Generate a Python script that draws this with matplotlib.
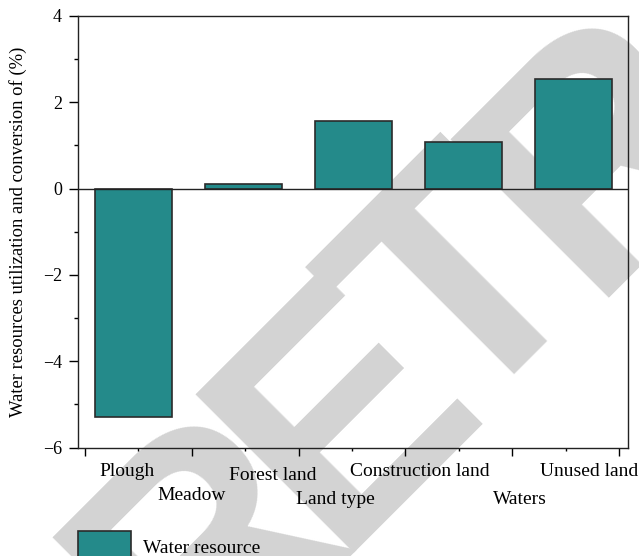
import numpy as np
import matplotlib
matplotlib.use("Agg")
import matplotlib.pyplot as plt
from matplotlib import font_manager
from matplotlib.patches import Patch
from matplotlib.ticker import MultipleLocator

plt.rcParams["font.family"] = ["Liberation Serif", "DejaVu Serif"]

# ── data ────────────────────────────────────────────────────────────────────
land_types = ["Plough", "Meadow", "Forest land", "Construction land", "Unused land"]
change_pct = [-5.30, 0.10, 1.56, 1.08, 2.54]

# category labels as printed under the axis (staggered in two rows)
axis_labels = ["Plough", "Meadow", "Forest land", "Construction land", "Waters", "Unused land"]
series_name = "Water resource"

TEAL = "#248a8a"
W, H = 639, 556

fig = plt.figure(figsize=(W / 100, H / 100), dpi=100, facecolor="white")
ax = fig.add_axes([78 / W, 1 - 447.5 / H, 550 / W, 431.5 / H])
ax.patch.set_alpha(0)

# ── watermark behind everything, one letter at a time along a 45° baseline ─
installed = {f.name for f in font_manager.fontManager.ttflist}
wm_family = "Liberation Sans Narrow" if "Liberation Sans Narrow" in installed else "Liberation Sans"
wm_word = "RETRACTED"
wm_offsets = [-10, 192, 373, 553, 750, 930, 1110, 1270, 1445]  # px along baseline
origin = np.array([196.0, 689.0])
step = np.array([0.7071, -0.7071])
for ch, u in zip(wm_word, wm_offsets):
    px, py = origin + u * step
    fig.text(px / W, 1 - py / H, ch, fontsize=234, color="#d3d3d3",
             family=wm_family, weight="bold", rotation=45,
             rotation_mode="anchor", ha="left", va="baseline", zorder=-5)

# ── bars ────────────────────────────────────────────────────────────────────
x = 0.45 + 1.03 * np.arange(len(change_pct))
ax.bar(x, change_pct, width=0.72, color=TEAL, edgecolor="#2b2b2b",
       linewidth=1.2, zorder=2)
ax.axhline(0, color="#222222", linewidth=1.0, zorder=3)

ax.set_xlim(-7 / 106.8, 543 / 106.8)
ax.set_ylim(-6, 4)

ax.yaxis.set_major_locator(MultipleLocator(2))
ax.yaxis.set_minor_locator(MultipleLocator(1))
ax.xaxis.set_major_locator(MultipleLocator(1))
ax.xaxis.set_minor_locator(MultipleLocator(0.5))
ax.tick_params(axis="y", which="major", direction="out", length=6.5, width=1,
               labelsize=13, pad=5)
ax.tick_params(axis="y", which="minor", direction="out", length=3, width=1)
ax.tick_params(axis="x", which="major", direction="out", length=5.5, width=1)
ax.tick_params(axis="x", which="minor", direction="out", length=2.5, width=1)
ax.xaxis.set_tick_params(which="both", labelbottom=False)
for s in ax.spines.values():
    s.set_linewidth(1.0)
    s.set_color("#222222")

ax.set_ylabel("Water resources utilization and conversion of (%)", fontsize=13.4)
ax.yaxis.set_label_coords(-51 / 550, 0.5)

# ── staggered category labels and axis title ────────────────────────────────
label_xy = [(127, 471), (192, 496), (273, 475), (420, 471), (520, 500), (589, 471)]
for name, (px, py) in zip(axis_labels, label_xy):
    fig.text(px / W, 1 - py / H, name, fontsize=14, ha="center", va="center")
fig.text(335 / W, 1 - 500 / H, "Land type", fontsize=14, ha="center", va="center")

# ── legend ──────────────────────────────────────────────────────────────────
fig.legend(handles=[Patch(facecolor=TEAL, edgecolor="#2b2b2b", linewidth=1.2,
                          label=series_name)],
           loc="center left", bbox_to_anchor=(78 / W, 1 - 547 / H),
           frameon=False, fontsize=14, handlelength=2.7, handleheight=2.1,
           handletextpad=0.65, borderpad=0, borderaxespad=0)

fig.savefig("out.png", dpi=100, facecolor="white")
